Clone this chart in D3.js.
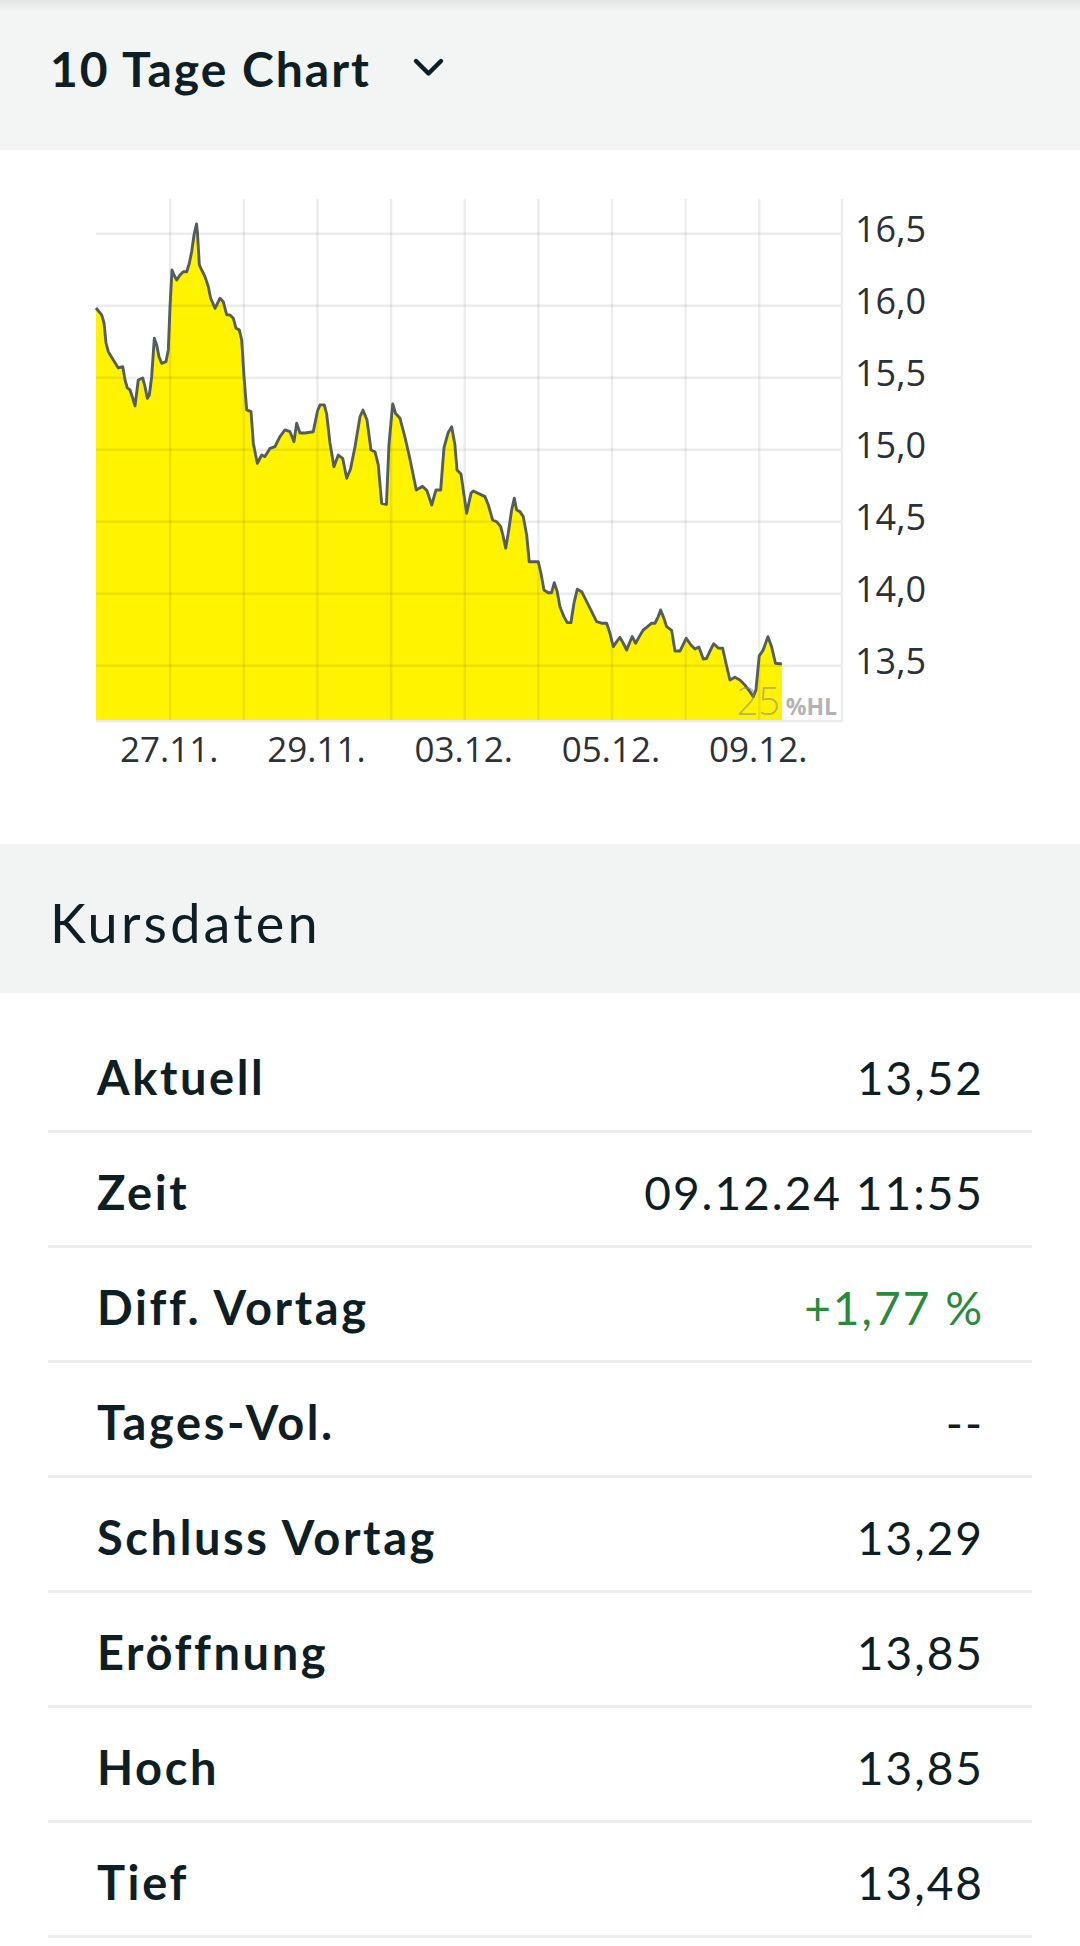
<!DOCTYPE html>
<html><head><meta charset="utf-8">
<script src="https://cdn.jsdelivr.net/npm/d3@7"></script>
<style>
html,body{margin:0;padding:0;background:#fff;}
svg{display:block;}
</style></head><body>
<svg id="c" width="1080" height="1946"></svg>
<script>
// ---------- data ----------
const dayLabels = ["26.11.","27.11.","28.11.","29.11.","02.12.","03.12.","04.12.","05.12.","06.12.","09.12."];
const labelDays = [1,3,5,7,9];
const gridDays = [1,2,3,4,5,6,7,8,9];
const yTicks = [13.5,14.0,14.5,15.0,15.5,16.0,16.5];
const xDomain = [0, 10.13];
const yDomain = [13.12, 16.738];

// time in trading days since start of 26.11.
const times = [0,0.077,0.109,0.136,0.167,0.235,0.303,0.363,0.394,0.425,0.462,0.498,0.530,0.574,0.634,0.665,0.697,0.724,0.756,0.792,0.824,0.855,0.892,0.950,0.982,1.005,1.032,1.059,1.096,1.141,1.185,1.232,1.267,1.299,1.331,1.365,1.378,1.403,1.435,1.480,1.525,1.557,1.616,1.684,1.728,1.775,1.819,1.864,1.901,1.946,1.978,2.010,2.046,2.105,2.136,2.190,2.250,2.295,2.363,2.430,2.498,2.566,2.634,2.688,2.725,2.770,2.838,2.950,3.008,3.041,3.100,3.132,3.177,3.231,3.290,3.350,3.404,3.456,3.517,3.585,3.625,3.680,3.734,3.788,3.833,3.879,3.944,3.978,4.029,4.067,4.128,4.196,4.263,4.349,4.433,4.494,4.558,4.617,4.680,4.725,4.783,4.830,4.874,4.902,4.956,5.033,5.092,5.123,5.191,5.282,5.327,5.386,5.441,5.495,5.530,5.563,5.598,5.644,5.680,5.712,5.757,5.802,5.848,5.883,6.006,6.042,6.083,6.141,6.187,6.223,6.263,6.300,6.354,6.399,6.449,6.490,6.535,6.595,6.663,6.731,6.798,6.866,6.934,6.979,7.024,7.070,7.115,7.160,7.206,7.251,7.282,7.328,7.377,7.431,7.477,7.545,7.590,7.635,7.667,7.712,7.749,7.817,7.862,7.930,8.015,8.079,8.133,8.187,8.246,8.289,8.337,8.388,8.449,8.509,8.563,8.608,8.676,8.744,8.812,8.880,8.925,8.961,9.006,9.060,9.124,9.174,9.226,9.287,9.314];
const prices = [15.981,15.933,15.877,15.738,15.678,15.620,15.565,15.574,15.481,15.426,15.412,15.356,15.301,15.481,15.495,15.435,15.354,15.377,15.504,15.771,15.725,15.643,15.597,15.608,15.690,15.990,16.245,16.210,16.176,16.210,16.233,16.233,16.292,16.372,16.488,16.565,16.502,16.280,16.245,16.199,16.129,16.049,15.979,16.049,16.025,15.933,15.933,15.910,15.840,15.829,15.759,15.504,15.273,15.261,15.042,14.903,14.960,14.949,15.007,15.018,15.088,15.134,15.122,15.053,15.181,15.113,15.113,15.122,15.266,15.308,15.308,15.245,15.044,14.879,14.960,14.937,14.799,14.863,15.018,15.226,15.273,15.203,14.995,14.983,14.891,14.625,14.617,15.030,15.315,15.250,15.215,15.082,14.933,14.717,14.743,14.713,14.613,14.717,14.717,15.009,15.117,15.157,15.030,14.856,14.828,14.556,14.694,14.710,14.694,14.671,14.613,14.509,14.497,14.463,14.393,14.313,14.417,14.578,14.660,14.578,14.567,14.532,14.405,14.219,14.219,14.139,14.023,14.004,14.004,14.074,14.011,13.907,13.838,13.796,13.796,13.931,14.028,14.011,13.942,13.872,13.803,13.792,13.792,13.722,13.629,13.664,13.694,13.653,13.606,13.664,13.699,13.653,13.699,13.745,13.764,13.792,13.792,13.838,13.884,13.826,13.768,13.742,13.599,13.599,13.688,13.641,13.613,13.627,13.544,13.547,13.599,13.650,13.620,13.618,13.495,13.398,13.417,13.398,13.363,13.317,13.282,13.328,13.565,13.606,13.699,13.629,13.514,13.511,13.511];

const rowLabels = ["Aktuell","Zeit","Diff. Vortag","Tages-Vol.","Schluss Vortag","Eröffnung","Hoch","Tief"];
const rowValues = ["13,52","09.12.24 11:55","+1,77 %","--","13,29","13,85","13,85","13,48"];
const positiveRow = "Diff. Vortag";

// ---------- layout ----------
const W = 1080;
const plot = {left: 96, right: 842, top: 199, bottom: 720};
const dark = "#0e1e25";
const svg = d3.select("#c");

// header band
const defs = svg.append("defs");
const g1 = defs.append("linearGradient").attr("id","sh").attr("x1",0).attr("x2",0).attr("y1",0).attr("y2",1);
g1.append("stop").attr("offset","0%").attr("stop-color","#e4e5e5");
g1.append("stop").attr("offset","100%").attr("stop-color","#f3f4f4");
svg.append("rect").attr("x",0).attr("y",0).attr("width",W).attr("height",150).attr("fill","#f3f4f4");
svg.append("rect").attr("x",0).attr("y",0).attr("width",W).attr("height",12).attr("fill","url(#sh)");
svg.append("text").attr("x",50).attr("y",87).text("10 Tage Chart")
  .attr("font-family","Lato, 'Noto Sans', sans-serif").attr("font-weight",700).attr("font-size",48)
  .attr("letter-spacing",2).attr("fill",dark);
svg.append("path").attr("d", d3.line()([[416,61],[428.5,73.5],[441,61]]))
  .attr("fill","none").attr("stroke",dark).attr("stroke-width",4.4).attr("stroke-linecap","round").attr("stroke-linejoin","round");

// ---------- chart ----------
const x = d3.scaleLinear().domain(xDomain).range([plot.left, plot.right]);
const y = d3.scaleLinear().domain(yDomain).range([plot.bottom, plot.top]);
const data = d3.zip(times, prices);

const chart = svg.append("g");
chart.append("path").datum(data)
  .attr("d", d3.area().x(d=>x(d[0])).y0(y(yDomain[0])).y1(d=>y(d[1])))
  .attr("fill","#fff300");

// grid via axes
const gridColor = "rgba(0,0,0,0.075)";
const yGrid = chart.append("g").attr("transform",`translate(${plot.left},0)`)
  .call(d3.axisRight(y).tickValues(yTicks).tickSize(plot.right-plot.left).tickFormat(""));
const xGrid = chart.append("g").attr("transform",`translate(0,${plot.top})`)
  .call(d3.axisBottom(x).tickValues(gridDays).tickSize(plot.bottom-plot.top).tickFormat(""));
[yGrid,xGrid].forEach(g=>{
  g.select(".domain").remove();
  g.selectAll("line").attr("stroke",gridColor).attr("stroke-width",2.4);
});
// frame right and bottom
chart.append("line").attr("x1",plot.right).attr("x2",plot.right).attr("y1",plot.top).attr("y2",plot.bottom+2)
  .attr("stroke","#ececec").attr("stroke-width",2.4);
chart.append("line").attr("x1",plot.left).attr("x2",plot.right).attr("y1",plot.bottom+1.2).attr("y2",plot.bottom+1.2)
  .attr("stroke","#ececec").attr("stroke-width",2.4);

// price line
chart.append("path").datum(data)
  .attr("d", d3.line().x(d=>x(d[0])).y(d=>y(d[1])))
  .attr("fill","none").attr("stroke","#535d5d").attr("stroke-width",2.9).attr("stroke-linejoin","round");

// watermark
chart.append("text").attr("x",780).attr("y",715).attr("text-anchor","end").text("25")
  .attr("font-family","'Open Sans', sans-serif").attr("font-weight",300).attr("font-size",38)
  .attr("fill","#8a8a8a").attr("fill-opacity",0.6);
chart.append("text").attr("x",837).attr("y",715).attr("text-anchor","end").text("%HL")
  .attr("font-family","'Open Sans', sans-serif").attr("font-weight",700).attr("font-size",23)
  .attr("fill","#b3b3b3");

// y labels
const fmt = d3.format(".1f");
const yAx = chart.append("g").attr("transform",`translate(${plot.right},0)`)
  .call(d3.axisRight(y).tickValues(yTicks).tickSize(0).tickPadding(13).tickFormat(v=>fmt(v).replace(".",",")));
yAx.select(".domain").remove();
yAx.selectAll("text").attr("font-family","'Open Sans', sans-serif").attr("font-size",36)
  .attr("fill","#2b3236").attr("dy","0.32em").attr("transform","translate(0,-3)");

// x labels
const xAx = chart.append("g").attr("transform",`translate(0,${plot.bottom})`)
  .call(d3.axisBottom(x).tickValues(labelDays).tickSize(0).tickPadding(0).tickFormat(i=>dayLabels[i]));
xAx.select(".domain").remove();
xAx.selectAll("text").attr("font-family","'Open Sans', sans-serif").attr("font-size",35)
  .attr("fill","#2b3236").attr("dy",null).attr("y",42).attr("transform","translate(-1,0)");

// ---------- Kursdaten ----------
svg.append("rect").attr("x",0).attr("y",844).attr("width",W).attr("height",149).attr("fill","#f2f4f4");
svg.append("text").attr("x",50).attr("y",943).text("Kursdaten")
  .attr("font-family","Lato, 'Noto Sans', sans-serif").attr("font-weight",400).attr("font-size",54)
  .attr("letter-spacing",3.2).attr("fill",dark);

const rowY = d3.scaleLinear().domain([0,1]).range([1095,1210]);
const rows = svg.append("g").selectAll("g").data(d3.zip(rowLabels,rowValues)).join("g")
  .attr("transform",(d,i)=>`translate(0,${rowY(i)})`);
rows.append("text").attr("x",97).attr("y",0).text(d=>d[0])
  .attr("font-family","Lato, 'Noto Sans', sans-serif").attr("font-weight",700).attr("font-size",47)
  .attr("letter-spacing",2.6).attr("fill",dark);
rows.append("text").attr("x",984).attr("y",0).attr("text-anchor","end").text(d=>d[1])
  .attr("font-family","Lato, 'Noto Sans', sans-serif").attr("font-weight",400).attr("font-size",46)
  .attr("letter-spacing",2).attr("fill",d=>d[0]===positiveRow ? "#2a8a3c" : dark);
rows.append("rect").attr("x",48).attr("y",35).attr("width",984).attr("height",3).attr("fill","#ededed");
</script>
</body></html>
